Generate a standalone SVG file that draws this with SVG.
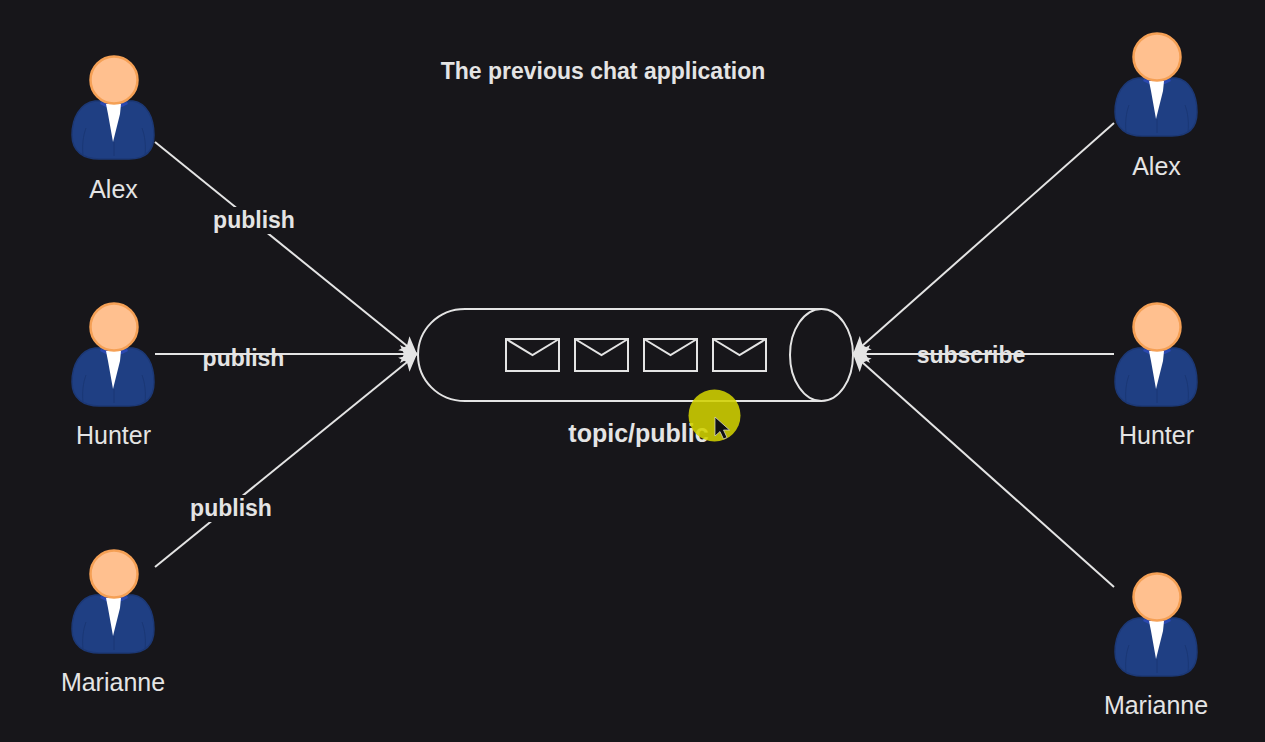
<svg xmlns="http://www.w3.org/2000/svg" width="1265" height="742" viewBox="0 0 1265 742">
<style>
text{font-family:"Liberation Sans",Arial,sans-serif;fill:#e4e4e4}
.n{font-size:25px;text-anchor:middle}
.b{font-size:23px;font-weight:bold;text-anchor:middle}
.l{fill:none;stroke:#e4e4e4;stroke-width:2}
.lb{fill:#17161a}
</style>
<defs>
<marker id="a" viewBox="0 0 18 20" refX="17" refY="10" markerWidth="18" markerHeight="20" markerUnits="userSpaceOnUse" orient="auto"><path d="M0 1L17 10L0 19L4 10Z" fill="#e4e4e4"/></marker>
<g id="p">
<path d="M-19 21C-34 23-42 38-42 55C-42 72-30 79-15 79H15C30 79 40 72 40 55C40 38 33 23 19 21Z" fill="#1f3f83" stroke="#1c3875" stroke-width="1.500"/>
<path d="M-28 48C-31 56-32 66-31 75M28 48C31 56 32 66 31 75M0 62V76" fill="none" stroke="#1a3775" stroke-width="1"/>
<path d="M-13 22L-7 23L7 23L13 22L14 24L8 27H-8L-14 24Z" fill="#2a48b0"/>
<path d="M-8 24H7L6 34L-1 62L-6 34Z" fill="#fff"/>
<circle cx="0" cy="0" r="23.500" fill="#ffc08f" stroke="#f5a055" stroke-width="2.500"/>
</g>
</defs>
<rect width="1265" height="742" fill="#17161a"/>
<g id="connectors">
<path class="l" marker-end="url(#a)" d="M155 142L417 354"/>
<path class="l" marker-end="url(#a)" d="M155 354H417"/>
<path class="l" marker-end="url(#a)" d="M155 567L417 354"/>
<path class="l" marker-end="url(#a)" d="M1114 123L853 354"/>
<path class="l" marker-end="url(#a)" d="M1114 354H853"/>
<path class="l" marker-end="url(#a)" d="M1114 587L853 354"/>
</g>
<g id="label-publish-1"><rect class="lb" x="213" y="207" width="82" height="27"/><text class="b" x="254" y="228">publish</text></g>
<g id="label-publish-2"><text class="b" x="243.500" y="366">publish</text></g>
<g id="label-publish-3"><rect class="lb" x="190" y="495" width="82" height="27"/><text class="b" x="231" y="516">publish</text></g>
<g id="label-subscribe"><text class="b" x="971" y="363">subscribe</text></g>
<text id="title" class="b" x="603" y="79">The previous chat application</text>
<g id="topic">
<path class="l" d="M821 309H465C438 309 418 330 418 355C418 380 438 401 465 401H821"/>
<ellipse class="l" cx="821.500" cy="355" rx="31.500" ry="46"/>
<g class="l">
<rect x="506" y="339" width="53" height="32"/><path d="M506 339L532.500 355L559 339"/>
<rect x="575" y="339" width="53" height="32"/><path d="M575 339L601.500 355L628 339"/>
<rect x="644" y="339" width="53" height="32"/><path d="M644 339L670.500 355L697 339"/>
<rect x="713" y="339" width="53" height="32"/><path d="M713 339L739.500 355L766 339"/>
</g>
<text class="b" style="font-size:25px" x="638.500" y="442">topic/public</text>
</g>
<g id="cursor">
<circle cx="714.500" cy="415.500" r="26" fill="#d2d200" fill-opacity=".88"/>
<path d="M715 417V436L720 431.500L723.500 439L727 437.500L723.500 430L729.500 430Z" fill="#111" stroke="#ddd" stroke-width=".7"/>
</g>
<g id="alex-left"><use href="#p" x="114" y="80"/><text class="n" x="113.500" y="198">Alex</text></g>
<g id="hunter-left"><use href="#p" x="114" y="327"/><text class="n" x="113.500" y="444">Hunter</text></g>
<g id="marianne-left"><use href="#p" x="114" y="574"/><text class="n" x="113" y="691">Marianne</text></g>
<g id="alex-right"><use href="#p" x="1157" y="57"/><text class="n" x="1156.500" y="175">Alex</text></g>
<g id="hunter-right"><use href="#p" x="1157" y="327"/><text class="n" x="1156.500" y="444">Hunter</text></g>
<g id="marianne-right"><use href="#p" x="1157" y="597"/><text class="n" x="1156" y="714">Marianne</text></g>
</svg>
